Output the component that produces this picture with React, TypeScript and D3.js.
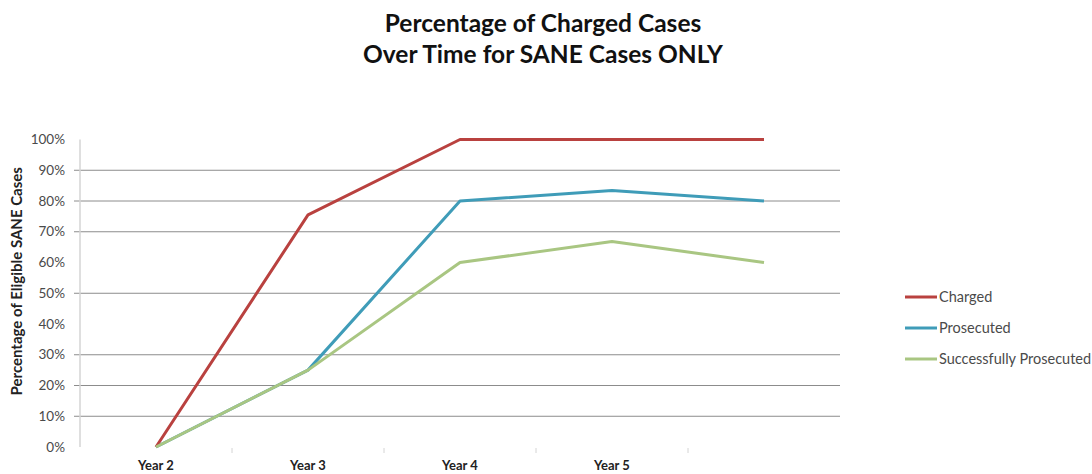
import { useRef, useEffect } from 'react'
import * as d3 from 'd3'

const years = ['Year 2', 'Year 3', 'Year 4', 'Year 5', '']
const charged = [0, 75.5, 100, 100, 100]
const prosecuted = [0, 25, 80, 83.4, 80]
const successfullyProsecuted = [0, 25, 60, 66.8, 60]
const yTicks = [0, 10, 20, 30, 40, 50, 60, 70, 80, 90, 100]
// grid lines that show up in the reference
const gridTicks = [10, 20, 30, 50, 70, 80, 90]

const seriesNames = ['Charged', 'Prosecuted', 'Successfully Prosecuted']
const seriesColors = ['#b9413f', '#3f9cb8', '#a9c682']

const width = 1092
const height = 474
const font = 'Lato, "Open Sans", sans-serif'

const App = () => {
  const svgRef = useRef<SVGSVGElement>(null)

  useEffect(() => {
    if (!svgRef.current) return
    const svg = d3.select(svgRef.current)
    svg.selectAll('*').remove()

    const margin = { top: 139.5, left: 80, right: 252, bottom: 27 }
    const innerWidth = width - margin.left - margin.right
    const innerHeight = height - margin.top - margin.bottom

    const x = d3.scaleBand<string>()
      .domain(years.map((_, i) => String(i)))
      .range([0, innerWidth])
    const y = d3.scaleLinear().domain([0, 100]).range([innerHeight, 0])
    const cx = (i: number) => (x(String(i)) || 0) + x.bandwidth() / 2

    const g = svg.append('g').attr('transform', `translate(${margin.left},${margin.top})`)

    // grid
    g.append('g')
      .selectAll('line')
      .data(gridTicks)
      .join('line')
      .attr('x1', -6)
      .attr('x2', innerWidth)
      .attr('y1', (d) => y(d))
      .attr('y2', (d) => y(d))
      .attr('stroke', '#8c8c8c')
      .attr('stroke-width', 1)

    // y axis
    g.append('line')
      .attr('x1', 0).attr('x2', 0)
      .attr('y1', 0).attr('y2', innerHeight)
      .attr('stroke', '#d4d4d4')
      .attr('stroke-width', 1.5)

    g.append('g')
      .selectAll('text')
      .data(yTicks)
      .join('text')
      .attr('x', -15)
      .attr('y', (d) => y(d))
      .attr('dy', '0.35em')
      .attr('text-anchor', 'end')
      .attr('font-family', font)
      .attr('font-size', 13.5)
      .attr('fill', '#4a4a4a')
      .text((d) => `${d}%`)

    // x ticks between categories
    g.append('g')
      .selectAll('line')
      .data(years.slice(1))
      .join('line')
      .attr('x1', (_, i) => x(String(i + 1)) || 0)
      .attr('x2', (_, i) => x(String(i + 1)) || 0)
      .attr('y1', innerHeight + 1)
      .attr('y2', innerHeight + 6)
      .attr('stroke', '#d4d4d4')

    g.append('g')
      .selectAll('text')
      .data(years)
      .join('text')
      .attr('x', (_, i) => cx(i))
      .attr('y', innerHeight + 23)
      .attr('text-anchor', 'middle')
      .attr('font-family', font)
      .attr('font-size', 13)
      .attr('font-weight', 'bold')
      .attr('fill', '#222')
      .text((d) => d)

    // lines
    const line = d3.line<number>()
      .x((_, i) => cx(i))
      .y((d) => y(d))

    const allSeries = [charged, prosecuted, successfullyProsecuted]
    // green drawn last: it covers the blue where both start out together
    ;[1, 0, 2].forEach((k) => {
      g.append('path')
        .datum(allSeries[k])
        .attr('fill', 'none')
        .attr('stroke', seriesColors[k])
        .attr('stroke-width', 3)
        .attr('stroke-linejoin', 'round')
        .attr('d', line)
    })

    // y axis title
    svg.append('text')
      .attr('transform', `translate(22,${margin.top + innerHeight / 2 - 12}) rotate(-90)`)
      .attr('text-anchor', 'middle')
      .attr('font-family', font)
      .attr('font-size', 15)
      .attr('font-weight', 'bold')
      .attr('fill', '#222')
      .text('Percentage of Eligible SANE Cases')

    // title
    const title = svg.append('text')
      .attr('text-anchor', 'middle')
      .attr('font-family', font)
      .attr('font-size', 24.5)
      .attr('font-weight', 'bold')
      .attr('fill', '#111')
    title.append('tspan').attr('x', 543).attr('y', 32).text('Percentage of Charged Cases')
    title.append('tspan').attr('x', 543).attr('y', 63).text('Over Time for SANE Cases ONLY')

    // legend
    const legend = svg.append('g').attr('transform', 'translate(905,297)')
    seriesNames.forEach((name, i) => {
      const row = legend.append('g').attr('transform', `translate(0,${i * 31})`)
      row.append('line')
        .attr('x1', 0).attr('x2', 32)
        .attr('stroke', seriesColors[i])
        .attr('stroke-width', 3)
      row.append('text')
        .attr('x', 34)
        .attr('dy', '0.35em')
        .attr('font-family', font)
        .attr('font-size', 14.5)
        .attr('fill', '#4a4a4a')
        .text(name)
    })
  }, [])

  return <svg ref={svgRef} width={width} height={height} style={{ position: 'absolute', left: 0, top: 0, background: '#fff' }} />
}

export default App
